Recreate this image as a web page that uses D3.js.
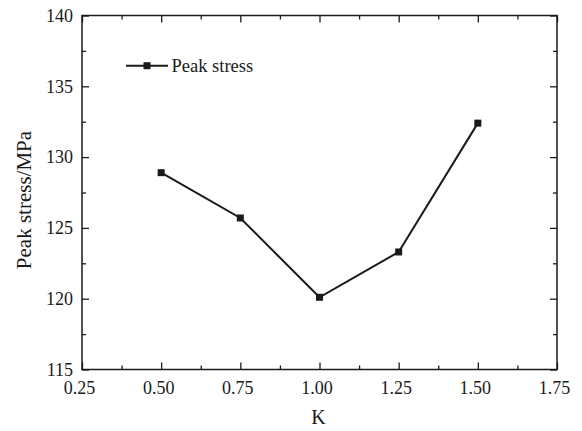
<!DOCTYPE html>
<html>
<head>
<meta charset="utf-8">
<script src="https://cdn.jsdelivr.net/npm/d3@7"></script>
<style>
  html, body { margin: 0; padding: 0; background: #fff; }
  svg { display: block; }
</style>
</head>
<body>
<svg id="chart" width="582" height="431"></svg>
<script>
// Peak stress for each K value
const kValues = [0.5, 0.75, 1.0, 1.25, 1.5];
const peakStress = [128.9, 125.7, 120.1, 123.3, 132.4];
const xTicks = [0.25, 0.5, 0.75, 1.0, 1.25, 1.5, 1.75];
const yTicks = [115, 120, 125, 130, 135, 140];
const seriesName = "Peak stress";

const FONT = "Liberation Serif";
const svg = d3.select("#chart");
const margin = { left: 82, right: 25, top: 15.5, bottom: 61.5 };
const W = 582, H = 431;

const x = d3.scaleLinear().domain([0.25, 1.75]).range([margin.left, W - margin.right]);
const y = d3.scaleLinear().domain([115, 140]).range([H - margin.bottom, margin.top]);

const ink = "#1a1a1a";
const fontSize = 18;

// minor tick positions (halfway between major ticks)
const xMinor = d3.range(0.375, 1.75, 0.25);
const yMinor = d3.range(117.5, 140, 5);

function drawAxis(axisGen, transform, showLabels) {
  const g = svg.append("g").attr("transform", transform).call(axisGen)
    .attr("font-family", FONT).attr("font-size", fontSize);
  g.select(".domain").remove();
  g.selectAll("line").attr("stroke", ink).attr("stroke-width", 1.3);
  g.selectAll("text").attr("fill", ink);
  if (!showLabels) g.selectAll("text").remove();
  return g;
}

// bottom axis (inward ticks)
drawAxis(d3.axisBottom(x).tickValues(xTicks).tickFormat(d3.format(".2f")).tickSize(-7).tickPadding(12),
  `translate(0,${y(115)})`, true)
  .selectAll("text").attr("dx", -3);
drawAxis(d3.axisBottom(x).tickValues(xMinor).tickSize(-4).tickFormat(""), `translate(0,${y(115)})`, false);
// top axis
drawAxis(d3.axisTop(x).tickValues(xTicks).tickSize(-7), `translate(0,${y(140)})`, false);
drawAxis(d3.axisTop(x).tickValues(xMinor).tickSize(-4), `translate(0,${y(140)})`, false);
// left axis
drawAxis(d3.axisLeft(y).tickValues(yTicks).tickSize(-7).tickPadding(9), `translate(${x(0.25)},0)`, true);
drawAxis(d3.axisLeft(y).tickValues(yMinor).tickSize(-4).tickFormat(""), `translate(${x(0.25)},0)`, false);
// right axis
drawAxis(d3.axisRight(y).tickValues(yTicks).tickSize(-7), `translate(${x(1.75)},0)`, false);
drawAxis(d3.axisRight(y).tickValues(yMinor).tickSize(-4), `translate(${x(1.75)},0)`, false);

// plot frame
svg.append("rect")
  .attr("x", x(0.25)).attr("y", y(140))
  .attr("width", x(1.75) - x(0.25)).attr("height", y(115) - y(140))
  .attr("fill", "none").attr("stroke", ink).attr("stroke-width", 1.5);

// axis titles
svg.append("text")
  .attr("x", (x(0.25) + x(1.75)) / 2 - 1).attr("y", 424)
  .attr("text-anchor", "middle").attr("fill", ink)
  .attr("font-family", FONT).attr("font-size", 20).text("K");
svg.append("text")
  .attr("transform", `translate(31,200) rotate(-90)`)
  .attr("text-anchor", "middle").attr("fill", ink)
  .attr("font-family", FONT).attr("font-size", 21).text("Peak stress/MPa");

// series line and markers
const data = kValues.map((k, i) => ({ k, v: peakStress[i] }));
svg.append("path")
  .datum(data)
  .attr("fill", "none").attr("stroke", ink).attr("stroke-width", 2)
  .attr("d", d3.line().x(d => x(d.k)).y(d => y(d.v)));
svg.selectAll(".pt").data(data).enter().append("rect")
  .attr("class", "pt")
  .attr("x", d => x(d.k) - 3.5).attr("y", d => y(d.v) - 3.5)
  .attr("width", 7).attr("height", 7).attr("fill", ink);

// legend
const lg = svg.append("g").attr("transform", "translate(126,65.7)");
lg.append("line").attr("x1", 0).attr("x2", 42).attr("y1", 0).attr("y2", 0)
  .attr("stroke", ink).attr("stroke-width", 2);
lg.append("rect").attr("x", 21 - 3.5).attr("y", -3.5).attr("width", 7).attr("height", 7).attr("fill", ink);
lg.append("text").attr("x", 45.5).attr("y", 6).attr("fill", ink)
  .attr("font-family", FONT).attr("font-size", 18.5).text(seriesName);
</script>
</body>
</html>
